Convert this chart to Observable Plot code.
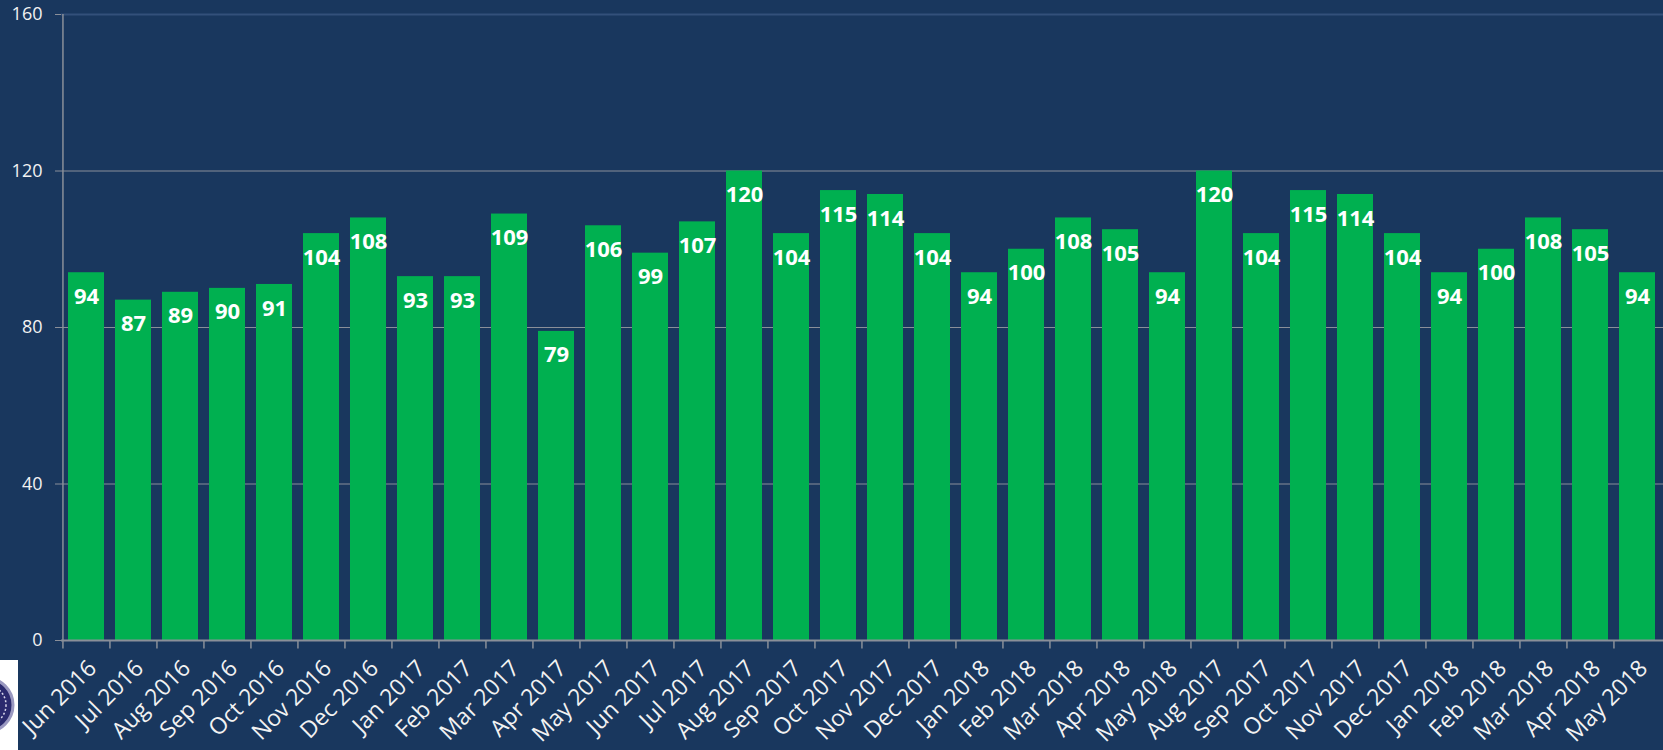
<!DOCTYPE html>
<html>
<head>
<meta charset="utf-8">
<script src="https://cdn.jsdelivr.net/npm/d3@7"></script>
<script src="https://cdn.jsdelivr.net/npm/@observablehq/plot@0.6"></script>
<style>
  html, body { margin: 0; padding: 0; background: #19375e; overflow: hidden; }
  #wrap { position: relative; width: 1663px; height: 750px; }
  #logo { position: absolute; left: 0; top: 660px; width: 18px; height: 90px; background: #fff; overflow: hidden; }
</style>
</head>
<body>
<div id="wrap">
  <div id="chart"></div>
  <div id="logo"><svg width="18" height="90"><circle cx="-14" cy="45" r="27" fill="#2b2a6e" stroke="#9a98c0" stroke-width="3"/><circle cx="-14" cy="45" r="20" fill="none" stroke="#d8d6ea" stroke-width="1.5" stroke-dasharray="2 2"/></svg></div>
</div>
<script>
const months = ["Jun 2016","Jul 2016","Aug 2016","Sep 2016","Oct 2016","Nov 2016","Dec 2016",
  "Jan 2017","Feb 2017","Mar 2017","Apr 2017","May 2017","Jun 2017","Jul 2017","Aug 2017",
  "Sep 2017","Oct 2017","Nov 2017","Dec 2017","Jan 2018","Feb 2018","Mar 2018","Apr 2018","May 2018",
  "Aug 2017","Sep 2017","Oct 2017","Nov 2017","Dec 2017","Jan 2018","Feb 2018","Mar 2018","Apr 2018","May 2018"];
const values = [94,87,89,90,91,104,108,93,93,109,79,106,99,107,120,104,115,114,104,94,100,108,105,94,
  120,104,115,114,104,94,100,108,105,94];
const yTicks = [0,40,80,120,160];
const gridTicks = [40,80,120];
const topTick = [160];

const data = months.map((m, i) => ({i, label: m, value: values[i]}));
const idx = data.map(d => d.i);

const W = 1663, H = 750, ML = 61, MR = 0, MT = 14, MB = 110;
const step = (W - ML - MR) / months.length;
const font = "'Open Sans', sans-serif";
const axisColor = "#8a8f99";

const chart = Plot.plot({
  width: W, height: H,
  marginLeft: ML, marginRight: MR, marginTop: MT, marginBottom: MB,
  style: {background: "#19375e", color: "#f2f2f2", fontFamily: font, fontSize: "18px"},
  x: {type: "band", domain: idx, paddingInner: 0.23, paddingOuter: 0.115, align: 0.5, axis: null},
  y: {domain: [0, 160], axis: null},
  marks: [
    Plot.ruleY(gridTicks, {stroke: axisColor, strokeWidth: 1}),
    Plot.ruleY(topTick, {stroke: "#33507a", strokeWidth: 2}),
    Plot.barY(data, {x: "i", y: "value", fill: "#00b050"}),
    Plot.text(data, {x: "i", y: "value", text: d => String(d.value), dy: 24, fill: "#ffffff",
      fontWeight: "bold", fontSize: 22, fontFamily: font}),
    // y axis line at the left edge of the first band
    Plot.ruleX([idx[0]], {y1: 0, y2: 160, dx: -step / 2, stroke: axisColor, strokeWidth: 1.5}),
    Plot.ruleY([0], {stroke: axisColor, strokeWidth: 2}),
    // boundary tick marks below the x axis
    Plot.ruleX(idx, {y1: 0, y2: -2.2, dx: -step / 2, stroke: axisColor, strokeWidth: 1.5}),
    Plot.axisY(yTicks, {tickSize: 6, tickPadding: 13, stroke: axisColor, fill: "#f2f2f2", fontSize: 18,
      fontFamily: font, label: null}),
    Plot.axisX(idx, {tickSize: 0, tickRotate: -45, tickPadding: 24, dx: 6, tickFormat: i => months[i],
      fill: "#f2f2f2", fontSize: 23, fontFamily: font, label: null})
  ]
});

document.getElementById("chart").appendChild(chart);
</script>
</body>
</html>
